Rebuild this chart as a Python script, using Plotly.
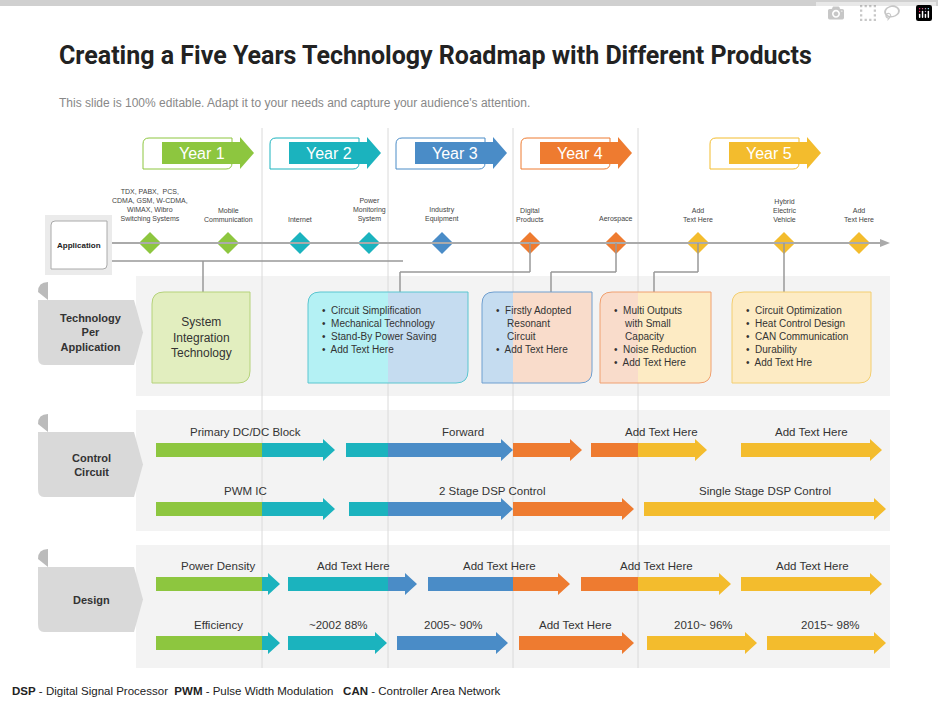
import plotly.graph_objects as go

GREEN, TEAL, BLUE, ORANGE, YELLOW = "#8DC63F", "#1BB3BE", "#4A8CC7", "#EE7B30", "#F3BC2D"

years = ["Year 1", "Year 2", "Year 3", "Year 4", "Year 5"]
year_colors = [GREEN, TEAL, BLUE, ORANGE, YELLOW]
year_tag_x = [143, 270, 396, 521, 710]
year_bounds = [262, 388, 513, 638]

app_x = [150, 228, 300, 369, 442, 530, 616, 698, 784, 859]
app_colors = [GREEN, GREEN, TEAL, TEAL, BLUE, ORANGE, ORANGE, YELLOW, YELLOW, YELLOW]
app_labels = ["TDX, PABX,  PCS,<br>CDMA, GSM, W-CDMA,<br>WiMAX, Wibro<br>Switching Systems",
              "Mobile<br>Communication", "Internet", "Power<br>Monitoring<br>System",
              "Industry<br>Equipment", "Digital<br>Products", "Aerospace", "Add<br>Text Here",
              "Hybrid<br>Electric<br>Vehicle", "Add<br>Text Here"]

# tech boxes: x0, x1, split, left fill, right fill, border, text, align
tech_boxes = [
    (152, 250, None, "#E2EEBF", "#E2EEBF", "#B5D27A", "System<br>Integration<br>Technology", "center"),
    (308, 468, 388, "#B4F1F4", "#C5DCF0", "#5BC6D0",
     "•  Circuit Simplification<br>•  Mechanical Technology<br>•  Stand-By Power Saving<br>•  Add Text Here", "left"),
    (482, 592, 513, "#C5DCF0", "#F9DCCB", "#6F9FD0",
     "•  Firstly Adopted<br>    Resonant<br>    Circuit<br>•  Add Text Here", "left"),
    (600, 711, 638, "#F9DCCB", "#FDEBC4", "#F0A070",
     "•  Multi Outputs<br>    with Small<br>    Capacity<br>•  Noise Reduction<br>•  Add Text Here", "left"),
    (732, 871, None, "#FDEBC4", "#FDEBC4", "#F3CE70",
     "•  Circuit Optimization<br>•  Heat Control Design<br>•  CAN Communication<br>•  Durability<br>•  Add Text Hre", "left"),
]

# arrows: y, x0, split, x1, color1, color2, label, label_x
arrows = [
    (450, 156, 262, 335, GREEN, TEAL, "Primary DC/DC Block", 245),
    (450, 346, 388, 513, TEAL, BLUE, "Forward", 463),
    (450, 513, 513, 582, ORANGE, ORANGE, "", 0),
    (450, 591, 638, 707, ORANGE, YELLOW, "Add Text Here", 661),
    (450, 741, 741, 882, YELLOW, YELLOW, "Add Text Here", 811),
    (509, 156, 262, 335, GREEN, TEAL, "PWM IC", 245),
    (509, 349, 388, 513, TEAL, BLUE, "2 Stage DSP Control", 492),
    (509, 513, 513, 634, ORANGE, ORANGE, "", 0),
    (509, 644, 644, 886, YELLOW, YELLOW, "Single Stage DSP Control", 765),
    (584, 156, 262, 280, GREEN, TEAL, "Power Density", 218),
    (584, 288, 388, 417, TEAL, BLUE, "Add Text Here", 353),
    (584, 428, 513, 570, BLUE, ORANGE, "Add Text Here", 499),
    (584, 581, 638, 731, ORANGE, YELLOW, "Add Text Here", 656),
    (584, 741, 741, 882, YELLOW, YELLOW, "Add Text Here", 812),
    (643, 156, 262, 280, GREEN, TEAL, "Efficiency", 218),
    (643, 288, 288, 387, TEAL, TEAL, "~2002 88%", 338),
    (643, 397, 397, 508, BLUE, BLUE, "2005~ 90%", 453),
    (643, 519, 519, 634, ORANGE, ORANGE, "Add Text Here", 575),
    (643, 647, 647, 757, YELLOW, YELLOW, "2010~ 96%", 703),
    (643, 767, 767, 886, YELLOW, YELLOW, "2015~ 98%", 830),
]

sections = ["Technology<br>Per<br>Application", "Control<br>Circuit", "Design"]
section_y = [(300, 365), (432, 497), (567, 632)]
panels_y = [(276, 396), (410, 531), (545, 668)]

FONT = "Liberation Sans, Arial, sans-serif"
shapes, ann = [], []


def arrow_path(x0, x1, y, h=7, hh=11, hl=12):
    xb = x1 - hl
    return (f"M{x0},{y-h} L{xb},{y-h} L{xb},{y-hh} L{x1},{y} L{xb},{y+hh} "
            f"L{xb},{y+h} L{x0},{y+h} Z")


def rbox(x0, x1, y0, y1, r=10):
    return (f"M{x0+r},{y0} L{x1},{y0} L{x1},{y1-r} Q{x1},{y1} {x1-r},{y1} "
            f"L{x0},{y1} L{x0},{y0+r} Q{x0},{y0} {x0+r},{y0} Z")


# top bar
shapes.append(dict(type="rect", x0=0, x1=938, y0=0, y1=6, fillcolor="#D0D0D0", line_width=0))

# grid panels
for (y0, y1) in panels_y:
    shapes.append(dict(type="rect", x0=136, x1=890, y0=y0, y1=y1, fillcolor="#F3F3F3", line_width=0, layer="below"))

# year boundary lines
for xb in year_bounds:
    shapes.append(dict(type="line", x0=xb, x1=xb, y0=128, y1=668, line=dict(color="#DADADA", width=1), layer="below"))

# year tags
for name, c, x in zip(years, year_colors, year_tag_x):
    shapes.append(dict(type="path", path=rbox(x, x + 89, 138, 169, 6), fillcolor="white", line=dict(color=c, width=1)))
    shapes.append(dict(type="path", path=arrow_path(x + 19, x + 111, 153, 11, 16, 14), fillcolor=c, line_width=0))
    ann.append(dict(x=x + 59, y=153, text=name, showarrow=False, font=dict(size=16, color="white", family=FONT)))

# timeline
shapes.append(dict(type="line", x0=110, x1=884, y0=243, y1=243, line=dict(color="#AAAAAA", width=2)))
shapes.append(dict(type="path", path="M880,239 L890,243 L880,247 Z", fillcolor="#AAAAAA", line_width=0))
shapes.append(dict(type="line", x0=110, x1=403, y0=261, y1=261, line=dict(color="#999999", width=1.5)))
conn = [(203, 261, 203, 292), (400, 272, 530, 272), (400, 272, 400, 292), (530, 243, 530, 272),
        (616, 243, 616, 272), (551, 272, 616, 272), (551, 272, 551, 292),
        (698, 243, 698, 272), (654, 272, 698, 272), (654, 272, 654, 292), (784, 243, 784, 292)]
for a, b, c, d in conn:
    shapes.append(dict(type="line", x0=a, y0=b, x1=c, y1=d, line=dict(color="#999999", width=1.5)))

# application box
shapes.append(dict(type="rect", x0=45, x1=112, y0=215, y1=275, fillcolor="#EBEBEB", line_width=0))
shapes.append(dict(type="path", path=rbox(51, 107, 221, 269, 4), fillcolor="white", line=dict(color="#AAAAAA", width=1)))
ann.append(dict(x=79, y=245, text="<b>Application</b>", showarrow=False, font=dict(size=8, color="#222", family=FONT)))

for x, t in zip(app_x, app_labels):
    ann.append(dict(x=x, y=225, text=t, showarrow=False, yanchor="bottom",
                    font=dict(size=7, color="#444", family=FONT)))

# tech boxes
for x0, x1, sp, lc, rc, bc, txt, al in tech_boxes:
    shapes.append(dict(type="path", path=rbox(x0, x1, 292, 383, 12), fillcolor=rc, line_width=0))
    if sp:
        shapes.append(dict(type="path", path=f"M{x0+12},292 L{sp},292 L{sp},383 L{x0},383 L{x0},304 Q{x0},292 {x0+12},292 Z",
                           fillcolor=lc, line_width=0))
    shapes.append(dict(type="path", path=rbox(x0, x1, 292, 383, 12), line=dict(color=bc, width=1)))
    if al == "center":
        ann.append(dict(x=(x0 + x1) / 2, y=337, text=txt, showarrow=False,
                        font=dict(size=12, color="#333", family=FONT)))
    else:
        ann.append(dict(x=x0 + 12, y=303, text=txt, showarrow=False, xanchor="left", yanchor="top", align="left",
                        font=dict(size=10, color="#333", family=FONT)))

# section ribbons
for txt, (y0, y1) in zip(sections, section_y):
    shapes.append(dict(type="path", path=f"M38,{y0-8} Q38,{y0-18} 48,{y0-18} L48,{y0} Z", fillcolor="#BBBBBB", line_width=0))
    shapes.append(dict(type="path", path=f"M44,{y0} L134,{y0} L143,{(y0+y1)/2} L134,{y1} L44,{y1} Q38,{y1} 38,{y1-8} L38,{y0} Z",
                       fillcolor="#D9D9D9", line_width=0))
    ann.append(dict(x=91, y=(y0 + y1) / 2, text=f"<b>{txt}</b>", showarrow=False,
                    font=dict(size=11, color="#333", family=FONT)))

# arrows
for y, x0, sp, x1, c1, c2, lab, lx in arrows:
    shapes.append(dict(type="path", path=arrow_path(x0, x1, y), fillcolor=c2, line_width=0))
    if sp > x0:
        shapes.append(dict(type="rect", x0=x0, x1=sp, y0=y - 7, y1=y + 7, fillcolor=c1, line_width=0))
    if lab:
        ann.append(dict(x=lx, y=y - 10, text=lab, showarrow=False, yanchor="bottom",
                        font=dict(size=11.5, color="#333", family=FONT)))

fig = go.Figure()
fig.add_trace(go.Scatter(x=app_x, y=[243] * len(app_x), mode="markers",
                         marker=dict(symbol="diamond", size=17, color=app_colors, line_width=0),
                         hoverinfo="skip"))

ann.append(dict(x=57, y=55, text="<b>Creating a Five Years Technology Roadmap with Different Products</b>",
                showarrow=False, xanchor="left", font=dict(size=25, color="#222", family="Roboto, sans-serif")))
ann.append(dict(x=57, y=103, text="This slide is 100% editable. Adapt it to your needs and capture your audience's attention.",
                showarrow=False, xanchor="left", font=dict(size=12, color="#888", family=FONT)))
ann.append(dict(x=10, y=691, text="<b>DSP</b> - Digital Signal Processor  <b>PWM</b> - Pulse Width Modulation   <b>CAN</b> - Controller Area Network",
                showarrow=False, xanchor="left", font=dict(size=11.5, color="#222", family=FONT)))

fig.update_layout(width=938, height=703, autosize=False, margin=dict(l=0, r=0, t=0, b=0),
                  paper_bgcolor="white", plot_bgcolor="white", showlegend=False,
                  shapes=shapes, annotations=ann,
                  xaxis=dict(range=[0, 938], visible=False, fixedrange=True),
                  yaxis=dict(range=[703, 0], visible=False, fixedrange=True))
fig.write_html("out.html", post_script="document.body.style.margin='0';document.body.style.overflow='hidden';")
